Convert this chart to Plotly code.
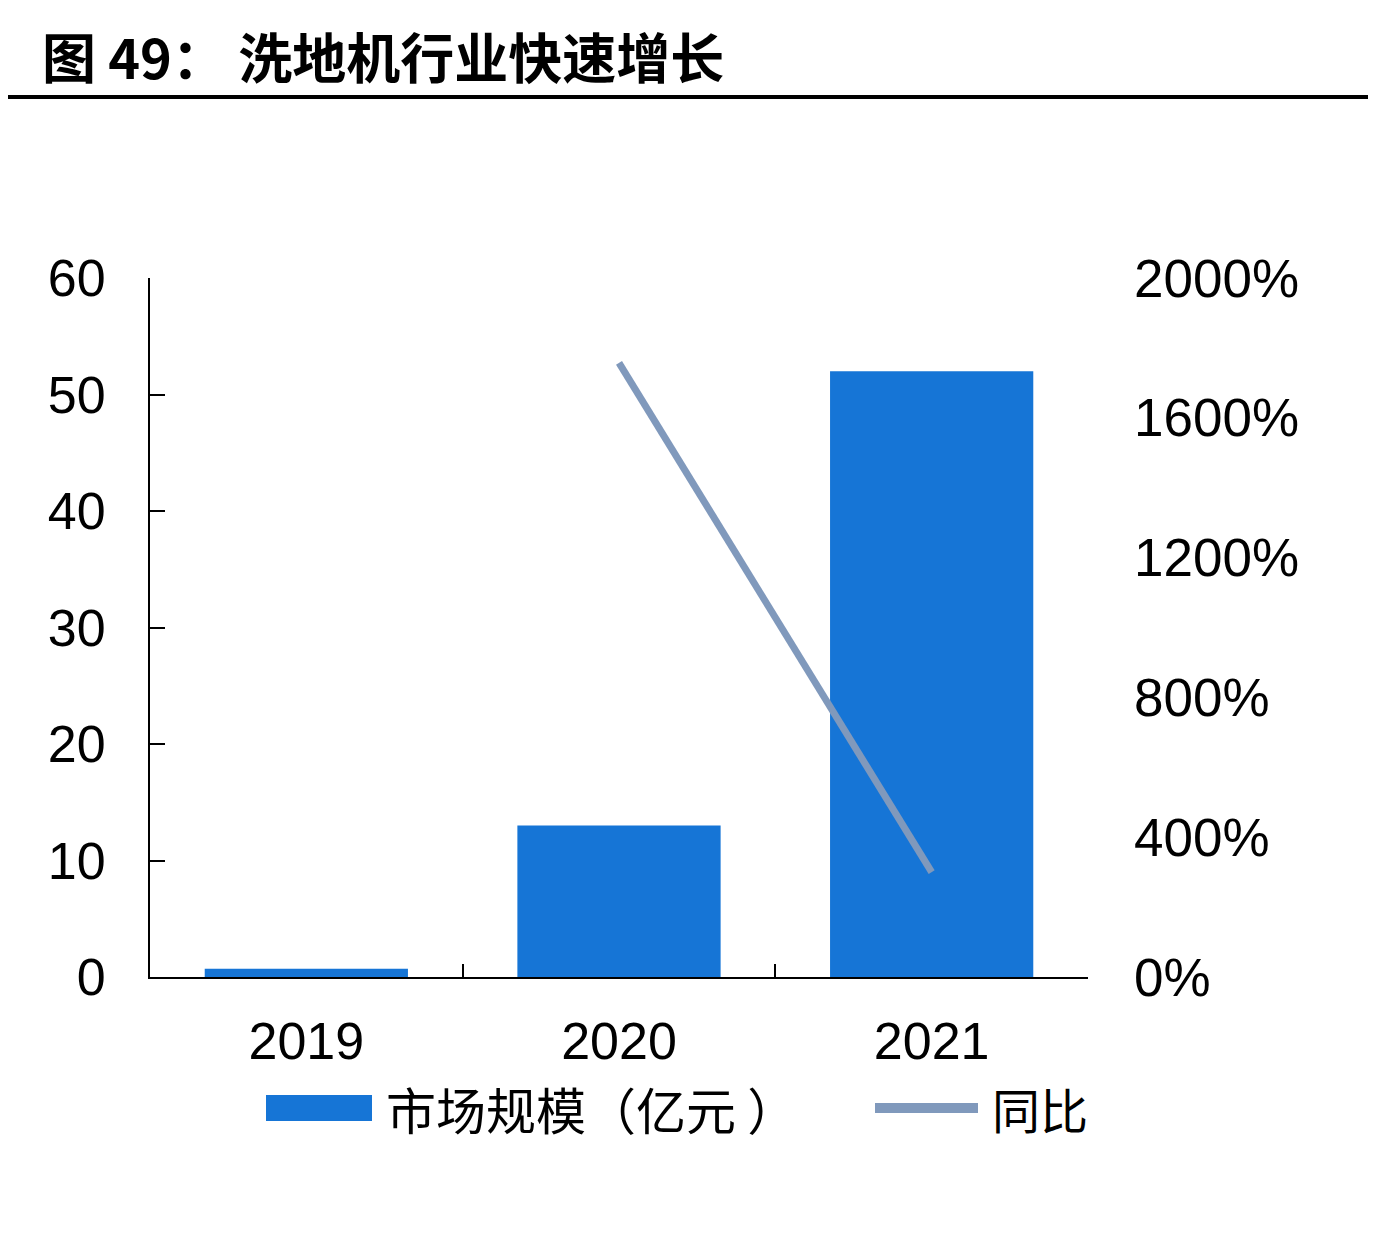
import plotly.graph_objects as go

# data
years = ["2019", "2020", "2021"]
market_size = [0.7, 13, 52]          # 亿元
yoy_years = ["2020", "2021"]
yoy_growth = [17.57, 3.0]            # 同比 (as fraction, 1757%, 300%)

left_ticks = [0, 10, 20, 30, 40, 50, 60]
right_ticks = [0, 4, 8, 12, 16, 20]
right_labels = ["0%", "400%", "800%", "1200%", "1600%", "2000%"]

# the page body adds an 8px margin, so work in reference pixels minus 8
OFF = 8
W, H = 1360, 1224
L, R, T, B = 150 - OFF, 1088 - OFF, 278 - OFF, 977 - OFF

BAR_COLOR = "#1675D6"
LINE_COLOR = "#8099BC"
NUM_FONT = "Liberation Sans, Arial, sans-serif"
CJK_FONT = "Noto Sans CJK SC, sans-serif"


def px(x):
    # reference pixel x -> paper fraction
    return (x - OFF - L) / (R - L)


def py(y):
    return (B - (y - OFF)) / (B - T)


fig = go.Figure()

fig.add_trace(go.Bar(
    x=years, y=market_size, name="市场规模（亿元）",
    marker=dict(color=BAR_COLOR, line=dict(width=0)),
    width=0.65, yaxis="y",
))

fig.add_trace(go.Scatter(
    x=yoy_years, y=yoy_growth, name="同比", mode="lines",
    line=dict(color=LINE_COLOR, width=7), yaxis="y2",
))

fig.update_layout(
    width=W, height=H,
    margin=dict(l=L, r=W - R, t=T, b=H - B),
    paper_bgcolor="white", plot_bgcolor="white",
    showlegend=False,
    xaxis=dict(
        type="category", showline=True, linecolor="black", linewidth=2,
        ticks="inside", tickson="boundaries", ticklen=13, tickwidth=2, tickcolor="black",
        tickfont=dict(family=NUM_FONT, size=52, color="black"),
        ticklabelstandoff=18, showgrid=False, zeroline=False,
        range=[-0.5, 2.5],
    ),
    yaxis=dict(
        range=[0, 60], tickvals=left_ticks, showline=True, linecolor="black", linewidth=2,
        ticks="inside", ticklen=15, tickwidth=2, tickcolor="black",
        tickfont=dict(family=NUM_FONT, size=52, color="black"),
        ticklabelstandoff=32, showgrid=False, zeroline=False,
    ),
    yaxis2=dict(
        overlaying="y", side="right", range=[0, 20],
        tickvals=right_ticks, ticktext=right_labels,
        showline=False, ticks="", showgrid=False, zeroline=False,
        tickfont=dict(family=NUM_FONT, size=53, color="black"),
        ticklabelstandoff=45,
    ),
)

# title and rule under it
fig.add_annotation(
    x=px(40), y=py(55), xref="paper", yref="paper", xanchor="left", yanchor="middle",
    text="<b>图 49： 洗地机行业快速增长</b>", showarrow=False,
    font=dict(family=CJK_FONT, size=54, color="black"),
)
fig.add_shape(type="line", xref="paper", yref="paper",
              x0=px(8), x1=px(1376), y0=py(97), y1=py(97),
              line=dict(color="black", width=4))

# legend drawn by hand to match the wide swatches
fig.add_shape(type="rect", xref="paper", yref="paper",
              x0=px(266), x1=px(372), y0=py(1095), y1=py(1121),
              fillcolor=BAR_COLOR, line=dict(width=0))
fig.add_annotation(
    x=px(384), y=py(1108), xref="paper", yref="paper", xanchor="left", yanchor="middle",
    text="市场规模（亿元 ）", showarrow=False,
    font=dict(family=CJK_FONT, size=50, color="black"),
)
fig.add_shape(type="line", xref="paper", yref="paper",
              x0=px(875), x1=px(978), y0=py(1108), y1=py(1108),
              line=dict(color=LINE_COLOR, width=10))
fig.add_annotation(
    x=px(990), y=py(1108), xref="paper", yref="paper", xanchor="left", yanchor="middle",
    text="同比", showarrow=False,
    font=dict(family=CJK_FONT, size=48, color="black"),
)

fig.write_html("out.html")
